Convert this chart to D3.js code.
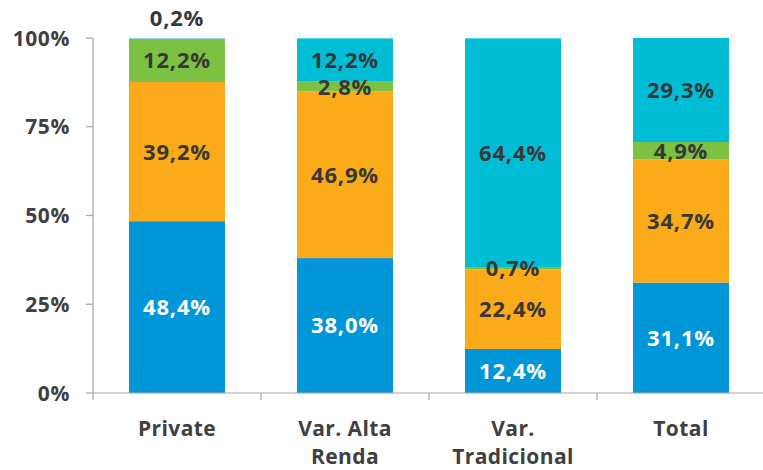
<!DOCTYPE html>
<html><head><meta charset="utf-8">
<script src="https://cdn.jsdelivr.net/npm/d3@7"></script>
<style>body{margin:0;background:#fff}svg{display:block}text{font-family:"Open Sans",sans-serif;font-weight:bold}</style>
</head><body><svg id="c" width="763" height="470"></svg>
<script>
const categories = ["Private", "Var. Alta Renda", "Var. Tradicional", "Total"];
const categoryLines = [["Private"], ["Var. Alta", "Renda"], ["Var.", "Tradicional"], ["Total"]];
const seriesBlue = [48.4, 38.0, 12.4, 31.1];
const seriesOrange = [39.2, 46.9, 22.4, 34.7];
const seriesGreen = [12.2, 2.8, 0.7, 4.9];
const seriesCyan = [0.2, 12.2, 64.4, 29.3];
const yTicks = [0, 25, 50, 75, 100];

const seriesList = [
  {key:"blue", values:seriesBlue, color:"#0096D8", text:"#ffffff"},
  {key:"orange", values:seriesOrange, color:"#FBAA19", text:"#383838"},
  {key:"green", values:seriesGreen, color:"#7DC143", text:"#383838"},
  {key:"cyan", values:seriesCyan, color:"#00BDD6", text:"#383838"}
];

const svg = d3.select("#c");
const x = d3.scaleBand().domain(categories).range([93, 765]).paddingInner(0).paddingOuter(0);
const y = d3.scaleLinear().domain([0, 100]).range([393, 38]);
const barW = 96;

const rows = categories.map((c, i) => {
  const r = {cat: c};
  seriesList.forEach(s => r[s.key] = s.values[i]);
  return r;
});
const stack = d3.stack().keys(seriesList.map(s => s.key));
const layers = stack(rows);

layers.forEach((layer, li) => {
  const s = seriesList[li];
  svg.append("g").selectAll("rect").data(layer).join("rect")
    .attr("x", d => x(d.data.cat) + x.bandwidth()/2 - barW/2)
    .attr("width", barW)
    .attr("y", d => y(d[1]))
    .attr("height", d => y(d[0]) - y(d[1]))
    .attr("fill", (d, i) => (s.key === "cyan" && i === 0) ? "#6EC6E6" : s.color);
});

// axes
const ax = svg.append("g").attr("stroke", "#a6a6a6").attr("stroke-width", 1.2).attr("fill", "none");
ax.append("line").attr("x1", 93).attr("x2", 93).attr("y1", y(100)).attr("y2", y(0));
ax.append("line").attr("x1", 93).attr("x2", 763).attr("y1", y(0)).attr("y2", y(0));
yTicks.forEach(t => ax.append("line").attr("x1", 86).attr("x2", 93).attr("y1", y(t)).attr("y2", y(t)));
categories.forEach((c, i) => {
  const xx = x(c);
  ax.append("line").attr("x1", xx).attr("x2", xx).attr("y1", y(0)).attr("y2", y(0) + 7);
});

svg.append("g").selectAll("text").data(yTicks).join("text")
  .attr("x", 70).attr("y", d => y(d)).attr("dy", "0.36em")
  .attr("text-anchor", "end").attr("font-size", 21).attr("letter-spacing", 0.6).attr("fill", "#404040")
  .text(d => d + "%");

categories.forEach((c, i) => {
  const t = svg.append("text").attr("text-anchor", "middle").attr("font-size", 21).attr("letter-spacing", 0.4).attr("fill", "#404040");
  categoryLines[i].forEach((ln, j) => {
    t.append("tspan").attr("x", x(c) + x.bandwidth()/2).attr("y", 436 + j * 28).text(ln);
  });
});

// data labels
layers.forEach((layer, li) => {
  const s = seriesList[li];
  layer.forEach((d, i) => {
    const v = d[1] - d[0];
    let cy = (y(d[0]) + y(d[1])) / 2;
    if (s.key === "cyan" && v < 1) cy = y(d[1]) - 20;
    svg.append("text").attr("x", x(d.data.cat) + x.bandwidth()/2).attr("y", cy).attr("dy", "0.36em")
      .attr("text-anchor", "middle").attr("font-size", 22).attr("letter-spacing", 0.8).attr("fill", s.text)
      .text(v.toFixed(1).replace(".", ",") + "%");
  });
});
</script></body></html>
